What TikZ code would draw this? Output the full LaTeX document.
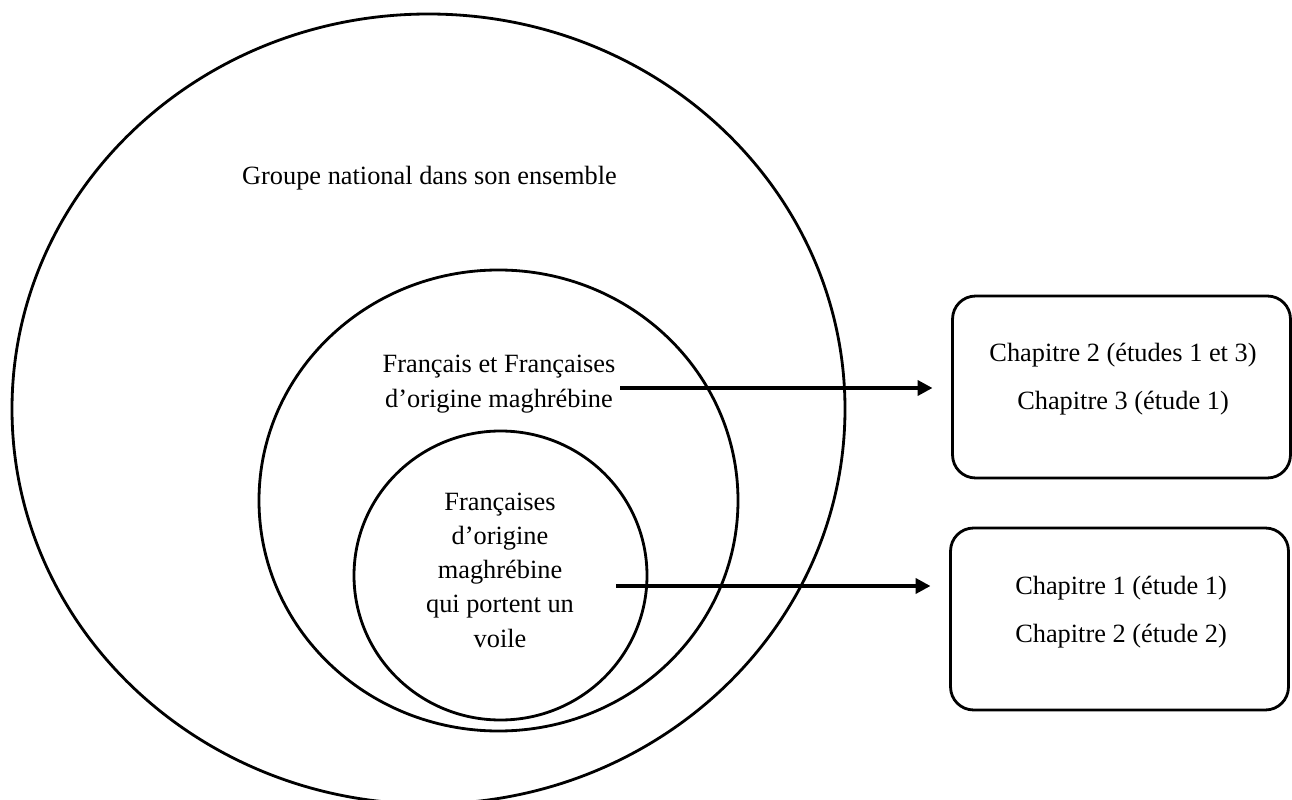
\documentclass[tikz,border=0pt]{standalone}
\usepackage{fontspec}
\setmainfont{Liberation Serif}
\usetikzlibrary{arrows.meta}

\begin{document}
\begin{tikzpicture}[x=0.02cm, y=-0.02cm,
  every node/.style={font=\fontsize{15}{19.5}\selectfont, align=center, inner sep=0pt, outer sep=0pt},
  ring/.style={line width=1.6pt},
  chapbox/.style={draw, line width=1.6pt, rounded corners=0.46cm, minimum width=6.76cm, minimum height=3.64cm},
  link/.style={line width=2.3pt, -{Triangle[length=0.3cm, width=0.3cm]}, shorten >=0.4cm}]
\useasboundingbox (0,0) rectangle (1292,800);
\clip (0,0) rectangle (1292,800);

% the three groups
\draw[ring] (428.5,409) ellipse [x radius=416.5, y radius=395];
\draw[ring] (498.5,500.5) ellipse [x radius=239.5, y radius=230.5];
\draw[ring] (500.5,575.5) ellipse [x radius=146.5, y radius=144.5];

\node (groupe) at (429.5,178) {Groupe national dans son ensemble};
\node (maghreb) at (499,384) {Français et Françaises\\d’origine maghrébine};
\node (voile) at (500,570) {Françaises\\d’origine\\maghrébine\\qui portent un\\voile};

% chapters
\node[chapbox] (boxA) at (1121.5,387) {};
\node[chapbox] (boxB) at (1119.5,619) {};
\node[font=\fontsize{15}{27}\selectfont] (txtA) at (1123,379) {Chapitre 2 (études 1 et 3)\\Chapitre 3 (étude 1)};
\node[font=\fontsize{15}{27}\selectfont] (txtB) at (1121,612) {Chapitre 1 (étude 1)\\Chapitre 2 (étude 2)};

\coordinate (startA) at (620,388);
\coordinate (startB) at (616,586);
\draw[link] (startA) -- (startA -| boxA.west);
\draw[link] (startB) -- (startB -| boxB.west);
\end{tikzpicture}
\end{document}
